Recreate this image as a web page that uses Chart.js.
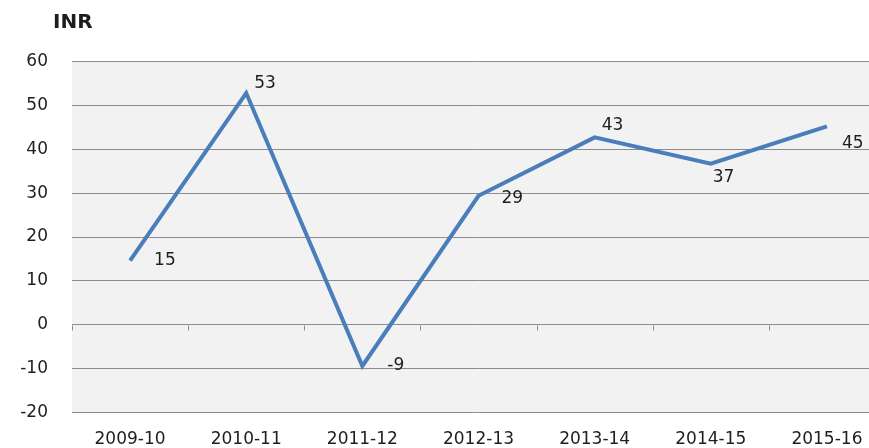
<!DOCTYPE html>
<html>
<head>
<meta charset="utf-8">
<title>INR</title>
<script src="https://cdn.jsdelivr.net/npm/chart.js@4.4.0/dist/chart.umd.min.js"></script>
<style>
  html, body { margin: 0; padding: 0; background: #fff; overflow: hidden; }
  #wrap { width: 900px; height: 448px; }
</style>
</head>
<body>
<div id="wrap"><canvas id="inrChart" width="900" height="448"></canvas></div>
<script>
// Chart data
const years = ['2009-10', '2010-11', '2011-12', '2012-13', '2013-14', '2014-15', '2015-16'];
const inrValues = [14.6, 52.8, -9.4, 29.4, 42.7, 36.7, 45.2];
const yTicks = [-20, -10, 0, 10, 20, 30, 40, 50, 60];

// Where each data label sits relative to its point (dx to left edge, dy to middle)
const labelOffsets = [[24, 0], [8, -10], [25, 0], [23, 3], [7, -12], [2, 14], [15, 17]];

const textColor = '#1e1e1e';
const fontFamily = '"DejaVu Sans", Verdana, sans-serif';

// Grey plot background
const plotBackground = {
    id: 'plotBackground',
    beforeDraw(chart) {
        const { ctx, chartArea } = chart;
        ctx.save();
        ctx.fillStyle = '#ffffff';
        ctx.fillRect(0, 0, chart.width, chart.height);
        ctx.fillStyle = '#f2f2f2';
        ctx.fillRect(chartArea.left, chartArea.top, chartArea.right - chartArea.left, chartArea.bottom - chartArea.top);
        ctx.restore();
    }
};

// Small tick marks on the zero line between categories, plus the "INR" caption
const axisExtras = {
    id: 'axisExtras',
    afterDraw(chart) {
        const { ctx, chartArea } = chart;
        const x = chart.scales.x;
        const y = chart.scales.y;
        const zero = Math.round(y.getPixelForValue(0)) + 0.5;
        const step = (chartArea.right - chartArea.left) / years.length;
        ctx.save();
        ctx.strokeStyle = '#8c8c8c';
        ctx.lineWidth = 1;
        for (let i = 0; i <= years.length; i++) {
            const px = Math.round(chartArea.left + i * step) + 0.5;
            ctx.beginPath();
            ctx.moveTo(px, zero);
            ctx.lineTo(px, zero + 5);
            ctx.stroke();
        }
        ctx.fillStyle = textColor;
        ctx.font = 'bold 20px ' + fontFamily;
        ctx.textAlign = 'left';
        ctx.textBaseline = 'middle';
        ctx.fillText('INR', chartArea.left - 19, 23);
        ctx.restore();
    }
};

// Rounded value labels next to the line
const valueLabels = {
    id: 'valueLabels',
    afterDatasetsDraw(chart) {
        const { ctx } = chart;
        const meta = chart.getDatasetMeta(0);
        ctx.save();
        ctx.fillStyle = textColor;
        ctx.font = '17px ' + fontFamily;
        ctx.textAlign = 'left';
        ctx.textBaseline = 'middle';
        meta.data.forEach((pt, i) => {
            const off = labelOffsets[i];
            ctx.fillText(String(Math.round(inrValues[i])), pt.x + off[0], pt.y + off[1]);
        });
        ctx.restore();
    }
};

new Chart(document.getElementById('inrChart').getContext('2d'), {
    type: 'line',
    data: {
        labels: years,
        datasets: [{
            label: 'INR',
            data: inrValues,
            borderColor: '#4a7ebb',
            borderWidth: 4,
            pointRadius: 0,
            tension: 0,
            fill: false
        }]
    },
    options: {
        responsive: false,
        animation: false,
        devicePixelRatio: 1,
        layout: { padding: { top: 61.5, right: 15, left: 0, bottom: 0 } },
        plugins: {
            legend: { display: false },
            title: { display: false },
            tooltip: { enabled: false }
        },
        scales: {
            x: {
                offset: true,
                grid: { display: false, drawTicks: false },
                border: { display: false },
                ticks: {
                    color: textColor,
                    font: { family: fontFamily, size: 17 },
                    padding: 17,
                    maxRotation: 0,
                    autoSkip: false
                },
                afterFit(scale) { scale.height = 35.5; }
            },
            y: {
                min: yTicks[0],
                max: yTicks[yTicks.length - 1],
                afterBuildTicks(scale) { scale.ticks = yTicks.map(v => ({ value: v })); },
                grid: { color: '#8c8c8c', lineWidth: 1, drawTicks: false },
                border: { display: false },
                ticks: {
                    color: textColor,
                    font: { family: fontFamily, size: 17 },
                    padding: 24
                },
                afterFit(scale) { scale.width = 72; }
            }
        }
    },
    plugins: [plotBackground, axisExtras, valueLabels]
});
</script>
</body>
</html>
